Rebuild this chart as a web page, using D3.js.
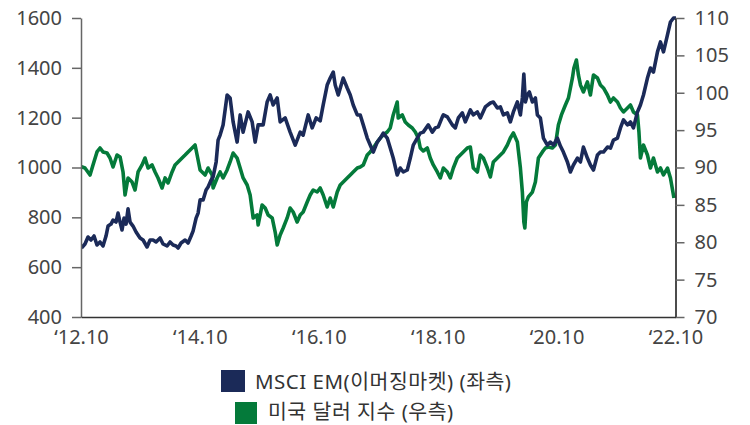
<!DOCTYPE html>
<html><head><meta charset="utf-8">
<script src="https://cdn.jsdelivr.net/npm/d3@7"></script>
<style>
body{margin:0;background:#fff}
svg{display:block}
text{font-family:"Noto Sans","Noto Sans CJK KR",sans-serif}
</style></head><body>
<svg id="chart" width="750" height="425"></svg>
<script>
// MSCI EM series (navy, left axis): time in decimal years, values
const emYears = [
 2012.758,2012.817,2012.868,2012.918,2012.969,2013.019,2013.070,2013.120,2013.171,2013.205,
 2013.255,2013.289,2013.339,2013.373,2013.407,2013.440,2013.474,2013.508,2013.541,2013.575,
 2013.625,2013.676,2013.743,2013.794,2013.861,2013.912,2013.962,2014.013,2014.080,2014.130,
 2014.198,2014.248,2014.299,2014.349,2014.383,2014.433,2014.501,2014.551,2014.602,2014.635,
 2014.686,2014.720,2014.753,2014.804,2014.854,2014.888,2014.939,2014.972,2015.023,2015.056,
 2015.090,2015.140,2015.174,2015.208,2015.258,2015.309,2015.376,2015.427,2015.477,2015.561,
 2015.629,2015.679,2015.730,2015.814,2015.881,2015.932,2015.982,2016.050,2016.100,2016.184,
 2016.268,2016.353,2016.437,2016.487,2016.572,2016.639,2016.706,2016.773,2016.824,2016.891,
 2016.942,2016.993,2017.026,2017.077,2017.161,2017.228,2017.279,2017.329,2017.397,2017.447,
 2017.498,2017.565,2017.615,2017.666,2017.733,2017.784,2017.834,2017.901,2017.952,2018.002,
 2018.069,2018.120,2018.171,2018.238,2018.289,2018.339,2018.406,2018.457,2018.507,2018.592,
 2018.659,2018.710,2018.760,2018.828,2018.845,2018.912,2018.996,2019.046,2019.097,2019.164,
 2019.215,2019.299,2019.349,2019.417,2019.467,2019.551,2019.636,2019.686,2019.754,2019.804,
 2019.855,2019.922,2019.972,2020.023,2020.090,2020.141,2020.174,2020.199,2020.225,2020.258,
 2020.292,2020.343,2020.393,2020.427,2020.477,2020.528,2020.595,2020.645,2020.696,2020.763,
 2020.814,2020.864,2020.932,2020.982,2021.033,2021.100,2021.151,2021.201,2021.268,2021.319,
 2021.370,2021.437,2021.487,2021.538,2021.605,2021.656,2021.706,2021.774,2021.824,2021.875,
 2021.942,2021.992,2022.043,2022.110,2022.160,2022.211,2022.278,2022.329,2022.379,2022.447,
 2022.497,2022.548,2022.615,2022.665,2022.716,2022.758
];
const emValues = [
 677,693,721,709,725,689,701,685,725,765,
 773,789,781,817,781,749,797,773,834,781,
 765,741,717,709,681,709,709,701,717,693,
 685,701,689,685,677,697,709,697,725,745,
 797,817,870,870,910,922,950,962,1022,1110,
 1130,1171,1231,1291,1279,1183,1102,1211,1142,1223,
 1183,1102,1171,1171,1263,1291,1251,1279,1183,1199,
 1142,1090,1142,1130,1211,1159,1199,1187,1251,1331,
 1359,1383,1331,1291,1359,1319,1291,1251,1211,1211,
 1171,1118,1090,1062,1102,1118,1138,1118,1078,1038,
 970,998,982,990,1038,1090,1118,1138,1142,1171,
 1142,1159,1163,1203,1211,1203,1171,1159,1199,1219,
 1183,1231,1211,1223,1199,1243,1259,1263,1239,1243,
 1211,1219,1183,1223,1263,1211,1279,1375,1263,1291,
 1303,1263,1279,1211,1199,1118,1090,1102,1090,1118,
 1086,1062,1022,982,1010,1038,1022,1082,1038,1010,
 990,1050,1062,1062,1082,1078,1110,1118,1159,1191,
 1171,1183,1159,1223,1251,1291,1359,1399,1383,1464,
 1504,1464,1532,1584,1600,1600
];
// US dollar index series (green, right axis)
const dxyYears = [
 2012.758,2012.817,2012.902,2012.952,2013.019,2013.070,2013.120,2013.188,2013.238,2013.289,
 2013.356,2013.407,2013.457,2013.491,2013.541,2013.609,2013.659,2013.710,2013.777,2013.827,
 2013.878,2013.945,2013.996,2014.046,2014.114,2014.164,2014.215,2014.282,2014.332,2014.383,
 2014.450,2014.501,2014.551,2014.619,2014.669,2014.703,2014.753,2014.787,2014.838,2014.888,
 2014.955,2014.972,2015.040,2015.090,2015.140,2015.208,2015.258,2015.309,2015.376,2015.427,
 2015.477,2015.545,2015.595,2015.646,2015.713,2015.730,2015.797,2015.848,2015.898,2015.966,
 2016.016,2016.050,2016.100,2016.151,2016.218,2016.268,2016.319,2016.386,2016.437,2016.487,
 2016.555,2016.605,2016.656,2016.723,2016.773,2016.824,2016.891,2016.942,2016.993,2017.060,
 2017.110,2017.161,2017.228,2017.279,2017.329,2017.397,2017.447,2017.498,2017.565,2017.615,
 2017.666,2017.733,2017.784,2017.834,2017.901,2017.952,2018.002,2018.069,2018.086,2018.154,
 2018.204,2018.255,2018.322,2018.373,2018.423,2018.457,2018.507,2018.575,2018.625,2018.676,
 2018.743,2018.794,2018.845,2018.912,2018.962,2019.013,2019.080,2019.130,2019.181,2019.248,
 2019.299,2019.349,2019.417,2019.467,2019.518,2019.585,2019.636,2019.686,2019.754,2019.804,
 2019.855,2019.922,2019.972,2020.023,2020.090,2020.141,2020.174,2020.199,2020.216,2020.242,
 2020.275,2020.343,2020.393,2020.444,2020.511,2020.561,2020.612,2020.679,2020.730,2020.780,
 2020.831,2020.898,2020.949,2021.016,2021.041,2021.083,2021.117,2021.151,2021.201,2021.268,
 2021.319,2021.370,2021.437,2021.487,2021.538,2021.605,2021.656,2021.706,2021.774,2021.824,
 2021.875,2021.942,2021.992,2022.043,2022.110,2022.135,2022.160,2022.211,2022.278,2022.329,
 2022.379,2022.447,2022.497,2022.548,2022.615,2022.665,2022.724
];
const dxyValues = [
 90.11,89.93,89.00,90.34,92.08,92.61,92.08,91.94,91.27,90.07,
 91.67,91.41,89.40,86.32,88.60,88.06,86.99,89.40,90.34,91.27,
 89.93,90.34,89.40,88.60,87.26,88.60,87.93,89.40,90.34,90.74,
 91.27,91.67,92.08,92.61,93.01,91.67,89.67,89.40,89.00,89.93,
 89.00,87.26,88.60,89.40,88.60,89.67,90.74,91.94,91.27,89.93,
 88.60,87.66,86.32,83.25,83.65,82.31,84.99,84.58,83.65,83.25,
 81.37,79.63,80.97,81.91,83.25,84.58,84.05,82.71,83.65,84.05,
 85.39,86.32,86.99,86.72,87.26,86.32,84.72,85.92,84.72,86.72,
 87.66,88.06,88.60,89.00,89.40,89.93,90.07,90.34,91.67,92.08,
 92.61,93.41,93.95,94.35,94.75,95.29,97.03,98.76,96.62,97.03,
 96.09,95.69,95.29,94.75,93.95,92.61,92.21,92.61,91.27,90.34,
 89.40,88.60,89.93,89.40,88.60,89.93,91.27,91.67,92.08,92.61,
 92.74,89.93,89.40,91.67,91.27,89.93,88.73,90.74,91.27,91.67,
 92.08,93.01,93.95,94.62,93.41,89.93,86.72,82.71,81.91,85.39,
 86.06,86.72,88.06,91.27,92.08,92.61,92.74,92.61,93.01,95.69,
 97.03,98.36,99.30,101.98,103.31,104.38,102.38,101.04,100.10,101.44,
 99.70,102.38,101.98,101.04,100.64,99.70,98.76,99.30,98.76,97.96,
 97.43,97.96,98.36,97.43,97.03,94.75,91.27,93.01,91.67,89.93,
 91.27,89.40,89.93,89.00,89.93,88.60,85.92
];
const leftTicks = [400,600,800,1000,1200,1400,1600];
const rightTicks = [70,75,80,85,90,95,100,105,110];
const xTickYears = [2012.75,2014.75,2016.75,2018.75,2020.75,2022.75];
const xTickLabels = ["\u201812.10","\u201814.10","\u201816.10","\u201818.10","\u201820.10","\u201822.10"];
const seriesNames = ["MSCI EM(이머징마켓) (좌측)","미국 달러 지수 (우측)"];
const seriesColors = ["#1b2a58","#047a3a"];

const svg = d3.select("#chart");
const L = 81, R = 675.5, T = 18, B = 317;

const x = d3.scaleLinear().domain([2012.75, 2022.75]).range([L, R]);
const yL = d3.scaleLinear().domain([400,1600]).range([B, T]);
const yR = d3.scaleLinear().domain([70,110]).range([B, T]);

svg.append("defs").append("clipPath").attr("id","clip")
  .append("rect").attr("x",L).attr("y",T-2).attr("width",R-L+1).attr("height",B-T+2);

const g = svg.append("g").attr("clip-path","url(#clip)");
const lineR = d3.line().x((d,i)=>x(dxyYears[i])).y(d=>yR(d));
const lineL = d3.line().x((d,i)=>x(emYears[i])).y(d=>yL(d));
g.append("path").datum(dxyValues).attr("d",lineR)
  .attr("fill","none").attr("stroke",seriesColors[1]).attr("stroke-width",3.6).attr("stroke-linejoin","round");
g.append("path").datum(emValues).attr("d",lineL)
  .attr("fill","none").attr("stroke",seriesColors[0]).attr("stroke-width",3.6).attr("stroke-linejoin","round");

const axL = svg.append("g").attr("transform",`translate(${L},0)`)
  .call(d3.axisLeft(yL).tickValues(leftTicks).tickFormat(d3.format("d")).tickSize(9).tickSizeOuter(0).tickPadding(10));
axL.select(".domain").attr("stroke","#666").attr("stroke-width",1.5);
axL.selectAll(".tick line").attr("stroke","#666").attr("stroke-width",1.5);
axL.selectAll("text").attr("font-size",20).attr("fill","#444");

const axR = svg.append("g").attr("transform",`translate(${R},0)`)
  .call(d3.axisRight(yR).tickValues(rightTicks).tickFormat(d3.format("d")).tickSize(9).tickSizeOuter(0).tickPadding(10));
axR.select(".domain").attr("stroke","#111").attr("stroke-width",1.5);
axR.selectAll(".tick line").attr("stroke","#666").attr("stroke-width",1.5);
axR.selectAll("text").attr("font-size",20).attr("fill","#444");

const axB = svg.append("g").attr("transform",`translate(0,${B})`)
  .call(d3.axisBottom(x).tickValues(xTickYears).tickFormat((d,i)=>xTickLabels[i]).tickSize(0).tickSizeOuter(0).tickPadding(13));
axB.select(".domain").attr("stroke","#333").attr("stroke-width",1.5);
axB.selectAll("text").attr("font-size",20).attr("fill","#444");

const leg = [
  {x:221, y:370, w:24, h:22, tx:255, ty:381},
  {x:235, y:402, w:22, h:22, tx:268, ty:411}
];
leg.forEach((p,i)=>{
  svg.append("rect").attr("x",p.x).attr("y",p.y).attr("width",p.w).attr("height",p.h).attr("fill",seriesColors[i]);
  svg.append("text").attr("x",p.tx).attr("y",p.ty).attr("dominant-baseline","central")
    .attr("font-size",20.5).attr("letter-spacing",0.5).attr("fill","#333").text(seriesNames[i]);
});
</script>
</body></html>
